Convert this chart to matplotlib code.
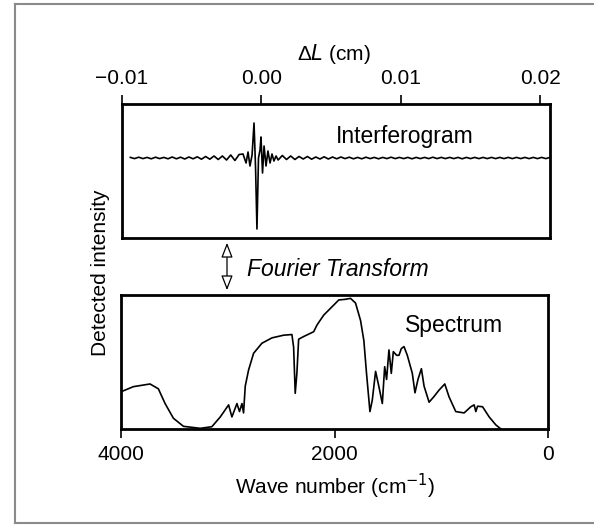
import numpy as np
import matplotlib.pyplot as plt
from matplotlib.patches import FancyArrowPatch
from matplotlib.lines import Line2D

plt.rcParams['font.family'] = ['Liberation Sans', 'DejaVu Sans']

# interferogram: path difference (cm) vs detector signal (arb.)
wing_left_x = np.arange(-0.0094, -0.00159, 0.0003)
wing_left_y = [0.6, -0.6, 0.8, -0.6, 0.6, -0.8, 0.8, -0.6, 0.6, -0.8, 1, -0.8,
               0.8, -1, 1, -0.8, 1.2, -1.2, 1.5, -1.2, 2, -1.5, 2, -2, 3, -2.5, 3.5]
burst_x = [-0.00132, -0.00110, -0.00096, -0.00082, -0.00067, -0.00053,
           -0.00042, -0.00032, -0.00021, -0.00010, -0.00003, 0.00008,
           0.00019, 0.00033, 0.00047, 0.00062, 0.00076, 0.00090, 0.00105]
burst_y = [4, -5, 6, -8, 3, 35, -10, -71, 0, 8, 21, -15, 12, -8, 7, -5, 4, -3, 2]
wing_right_x = np.arange(0.0012, 0.02071, 0.0003)
wing_right_y = [-2, 2.5, -1.5, 2, -1.5, 1.5, -1, 1.5, -1.2, 1, -1, 1.2, -1, 1,
                -0.8, 1, -0.6, 0.8, -0.8, 0.6, -0.8, 0.8, -0.6, 0.6, -0.8, 0.6,
                -0.6, 0.8, -0.6, 0.6, -0.6, 0.6, -0.8, 0.6, -0.6, 0.6, -0.6,
                0.8, -0.6, 0.6, -0.6, 0.6, -0.6, 0.6, -0.8, 0.6, -0.6, 0.6,
                -0.6, 0.6, -0.6, 0.6, -0.6, 0.6, -0.6, 0.6, -0.6, 0.6, -0.6,
                0.6, -0.6, 0.6, -0.6, 0.6, -0.6, 0.6]

# spectrum: wave number (cm^-1) vs intensity
wavenumber = [3993, 3884, 3728, 3650, 3587, 3509, 3415, 3258, 3149, 3070,
              2992, 2961, 2914, 2890, 2867, 2852, 2836, 2805, 2758, 2680,
              2586, 2477, 2399, 2383, 2368, 2352, 2336, 2289, 2195, 2164,
              2101, 2007, 1960, 1897, 1850, 1803, 1756, 1725, 1700, 1668,
              1646, 1615, 1584, 1552, 1530, 1512, 1490, 1468, 1449, 1418,
              1396, 1374, 1349, 1318, 1271, 1246, 1218, 1186, 1161, 1114,
              1070, 1021, 967, 927, 864, 786, 723, 692, 676, 660, 613, 551,
              488, 441]
intensity = [0.28, 0.316, 0.336, 0.30, 0.19, 0.08, 0.02, 0.005, 0.017, 0.09,
             0.18, 0.09, 0.19, 0.13, 0.19, 0.12, 0.32, 0.44, 0.565, 0.64,
             0.68, 0.70, 0.705, 0.61, 0.266, 0.42, 0.67, 0.69, 0.726, 0.776,
             0.85, 0.925, 0.963, 0.968, 0.975, 0.94, 0.81, 0.66, 0.415, 0.13,
             0.216, 0.43, 0.316, 0.19, 0.465, 0.37, 0.59, 0.415, 0.577, 0.55,
             0.55, 0.60, 0.615, 0.55, 0.415, 0.27, 0.37, 0.45, 0.32, 0.20,
             0.24, 0.29, 0.336, 0.24, 0.13, 0.12, 0.166, 0.18, 0.13, 0.17,
             0.166, 0.09, 0.03, 0.0]

top_ticks = [-0.01, 0.00, 0.01, 0.02]
top_ticklabels = ['\u22120.01', '0.00', '0.01', '0.02']
bottom_ticks = [4000, 2000, 0]

ifg_x = np.concatenate([wing_left_x, burst_x, wing_right_x])
ifg_y = np.concatenate([wing_left_y, burst_y, wing_right_y])

W, H = 594, 527
fig = plt.figure(figsize=(W / 100, H / 100), dpi=100)

def px_box(l, t, r, b):
    return [l / W, 1 - b / H, (r - l) / W, (b - t) / H]

ax1 = fig.add_axes(px_box(122, 104, 550, 238))
ax2 = fig.add_axes(px_box(121, 295, 548, 429))

ax1.plot(ifg_x, ifg_y, color='black', lw=1.2)
ax1.set_xlim(-0.01, 0.0207)
ax1.set_ylim(-80, 54)
ax1.xaxis.tick_top()
ax1.set_xticks(top_ticks)
ax1.set_xticklabels(top_ticklabels)
ax1.set_yticks([])

ax2.plot(wavenumber, intensity, color='black', lw=1.2)
ax2.set_xlim(4000, 0)
ax2.set_ylim(0, 1)
ax2.set_xticks(bottom_ticks)
ax2.set_yticks([])

for ax in (ax1, ax2):
    for sp in ax.spines.values():
        sp.set_linewidth(2.0)
    ax.tick_params(axis='x', direction='out', length=6.5, width=1.2,
                   pad=5, labelsize=15)

fig.text(334 / W, 1 - 54 / H, '\u0394$\\it{L}$ (cm)', ha='center', va='center',
         fontsize=15)
fig.text(336 / W, 1 - 143 / H, 'Interferogram', ha='left', va='baseline',
         fontsize=16.5)
fig.text(247 / W, 1 - 276 / H, 'Fourier Transform', ha='left', va='baseline',
         fontsize=16.5, style='italic')
fig.text(405 / W, 1 - 332 / H, 'Spectrum', ha='left', va='baseline',
         fontsize=16.5)
fig.text(101 / W, 1 - 273 / H, 'Detected intensity', ha='center', va='center',
         rotation=90, fontsize=15)
fig.text(335 / W, 1 - 486 / H, 'Wave number (cm$^{-1}$)', ha='center',
         va='center', fontsize=15)

# double arrow linking the two panels
arrow = FancyArrowPatch((227 / W, 1 - 240 / H), (227 / W, 1 - 293 / H),
                        transform=fig.transFigure,
                        arrowstyle='<|-|>,head_length=9,head_width=3.5',
                        facecolor='white', edgecolor='black', lw=0.9)
fig.add_artist(arrow)

# grey page frame
frame_kw = dict(transform=fig.transFigure, color='#8a8a8a', lw=1.5)
fig.add_artist(Line2D([15 / W, 15 / W], [1 - 4 / H, 1 - 523 / H], **frame_kw))
fig.add_artist(Line2D([15 / W, 1], [1 - 4 / H, 1 - 4 / H], **frame_kw))
fig.add_artist(Line2D([15 / W, 1], [1 - 523 / H, 1 - 523 / H], **frame_kw))

fig.savefig('out.png', dpi=100)
